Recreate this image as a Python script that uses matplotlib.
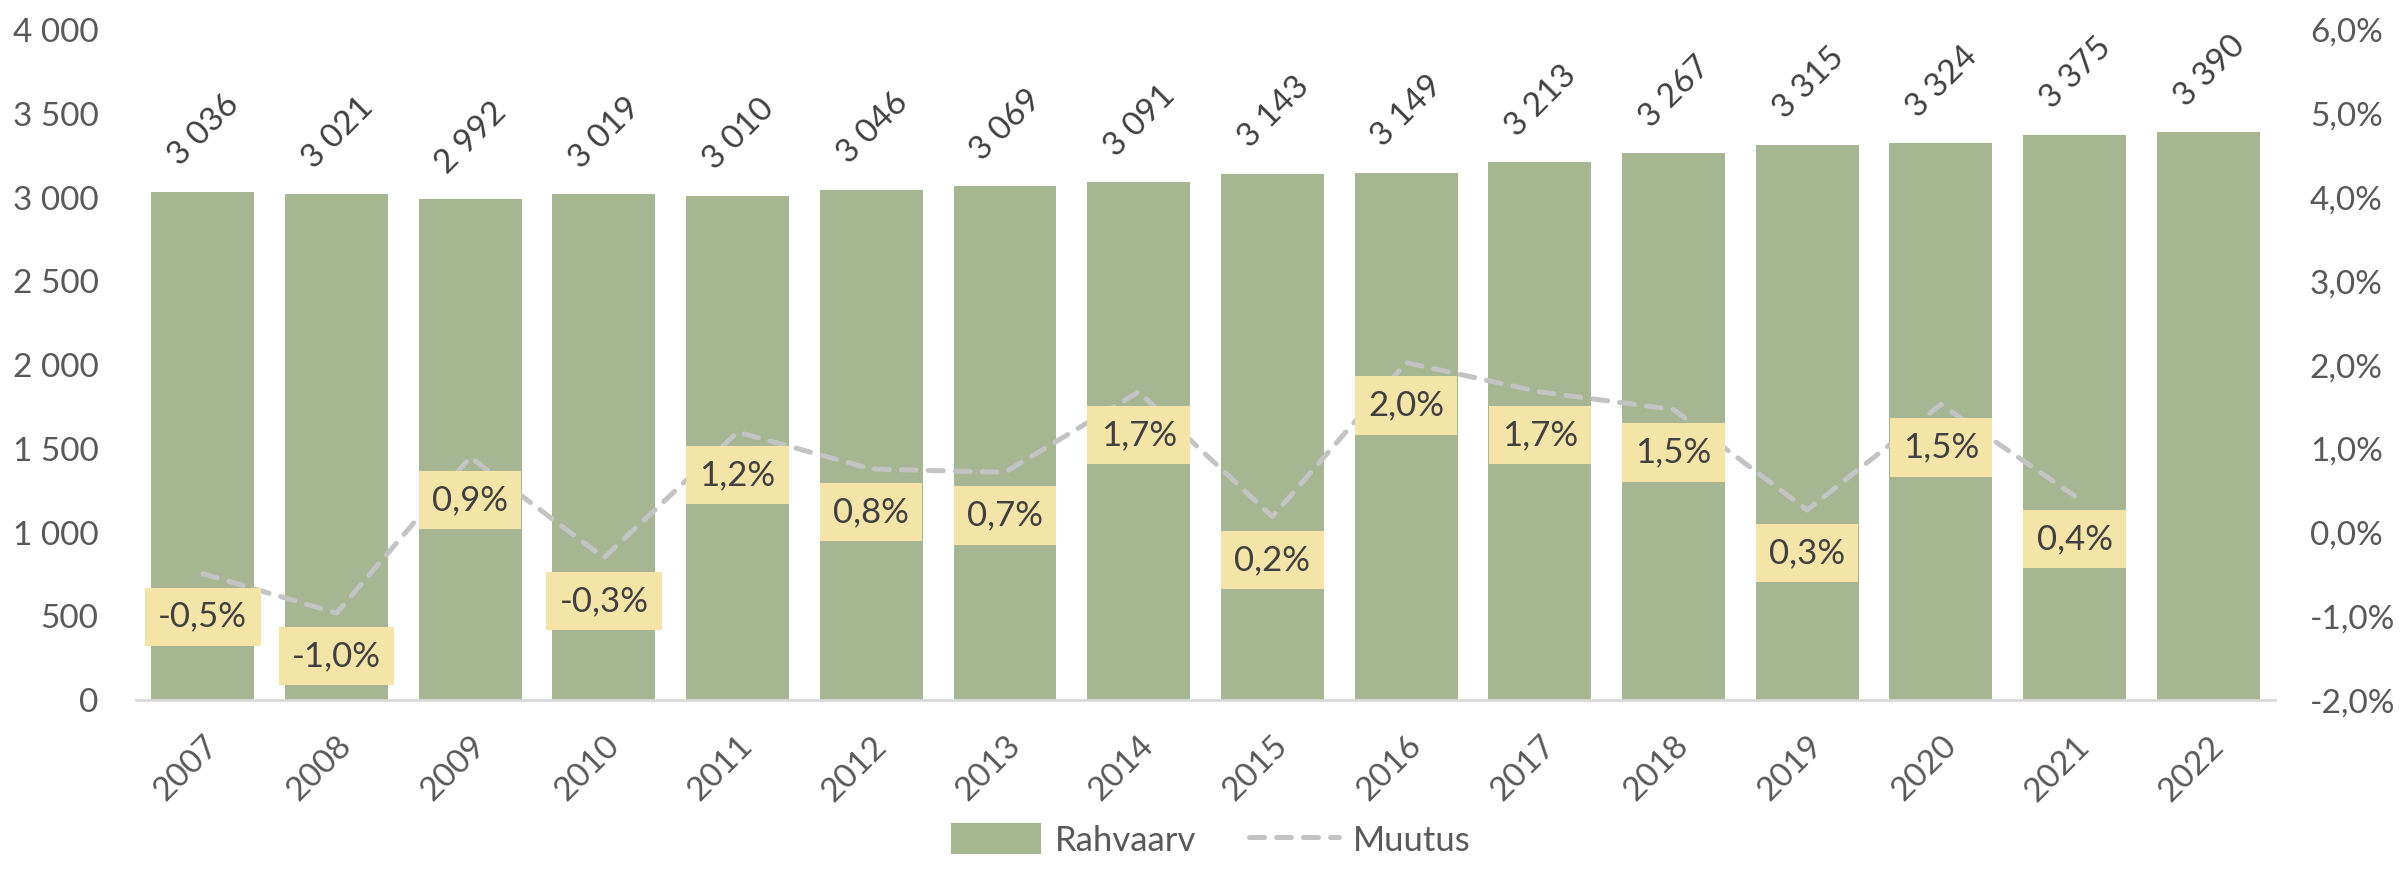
import matplotlib.pyplot as plt
from matplotlib.ticker import FuncFormatter

plt.rcParams['font.family'] = ['Lato', 'DejaVu Sans']

years = [str(y) for y in range(2007, 2023)]
rahvaarv = [3036, 3021, 2992, 3019, 3010, 3046, 3069, 3091,
            3143, 3149, 3213, 3267, 3315, 3324, 3375, 3390]
# change in percent, 2007..2021 (no value for 2022)
muutus = [-0.49, -0.96, 0.90, -0.30, 1.20, 0.76, 0.72, 1.68,
          0.19, 2.03, 1.68, 1.47, 0.27, 1.53, 0.44]

BAR = '#a6b592'
LINE = '#c3c3c3'
BOX = '#f5e4a8'
TXT = '#595959'
LBL = '#404040'

fig = plt.figure(figsize=(24.07, 8.73), dpi=100)
ax = fig.add_axes([0.0565, 0.198, 0.8887, 0.7676])
ax2 = ax.twinx()

x = list(range(len(years)))
bars = ax.bar(x, rahvaarv, width=0.77, color=BAR, label='Rahvaarv', zorder=2)
ax.set_xlim(-0.5, len(years) - 0.5)
ax.set_ylim(0, 4000)
ax.set_yticks(range(0, 4001, 500))
ax.yaxis.set_major_formatter(FuncFormatter(lambda v, p: f'{int(v):,}'.replace(',', ' ')))

for xi, v in zip(x, rahvaarv):
    ax.annotate(f'{v:,}'.replace(',', ' '), (xi, v), xytext=(1, 44),
                textcoords='offset points', ha='center', va='center',
                rotation=45, fontsize=24, color=LBL)

ax.set_xticks(x)
ax.set_xticklabels(years, rotation=45, ha='right', rotation_mode='anchor')

line, = ax2.plot(x[:len(muutus)], muutus, color=LINE, lw=3.6,
                 dashes=(3.0, 2.4), dash_capstyle='round', label='Muutus', zorder=3)
ax2.set_ylim(-2, 6)
ax2.set_yticks(range(-2, 7))
ax2.yaxis.set_major_formatter(FuncFormatter(lambda v, p: f'{v:.1f}%'.replace('.', ',')))

for xi, v in zip(x, muutus):
    ax2.annotate(f'{v:.1f}%'.replace('.', ','), (xi, v), xytext=(0, -31),
                 textcoords='offset points', ha='center', va='center',
                 fontsize=25, color=LBL, zorder=5,
                 bbox=dict(boxstyle='square,pad=0.38', fc=BOX, ec='none'))

for a in (ax, ax2):
    for s in a.spines.values():
        s.set_visible(False)
    a.tick_params(length=0, labelsize=24, labelcolor=TXT)
ax.spines['bottom'].set_visible(True)
ax.spines['bottom'].set_color('#d9d9d9')
ax.spines['bottom'].set_linewidth(2)
ax.tick_params(axis='y', pad=27)
ax.tick_params(axis='x', pad=22)
ax2.tick_params(axis='y', pad=25)

fig.legend(handles=[bars, line], loc='lower center', bbox_to_anchor=(0.503, -0.005),
           ncol=2, frameon=False, fontsize=25, labelcolor=TXT,
           handlelength=2.6, handleheight=1.0, columnspacing=1.5, handletextpad=0.4,
           borderpad=0.1)

fig.savefig('out.png', dpi=100)
